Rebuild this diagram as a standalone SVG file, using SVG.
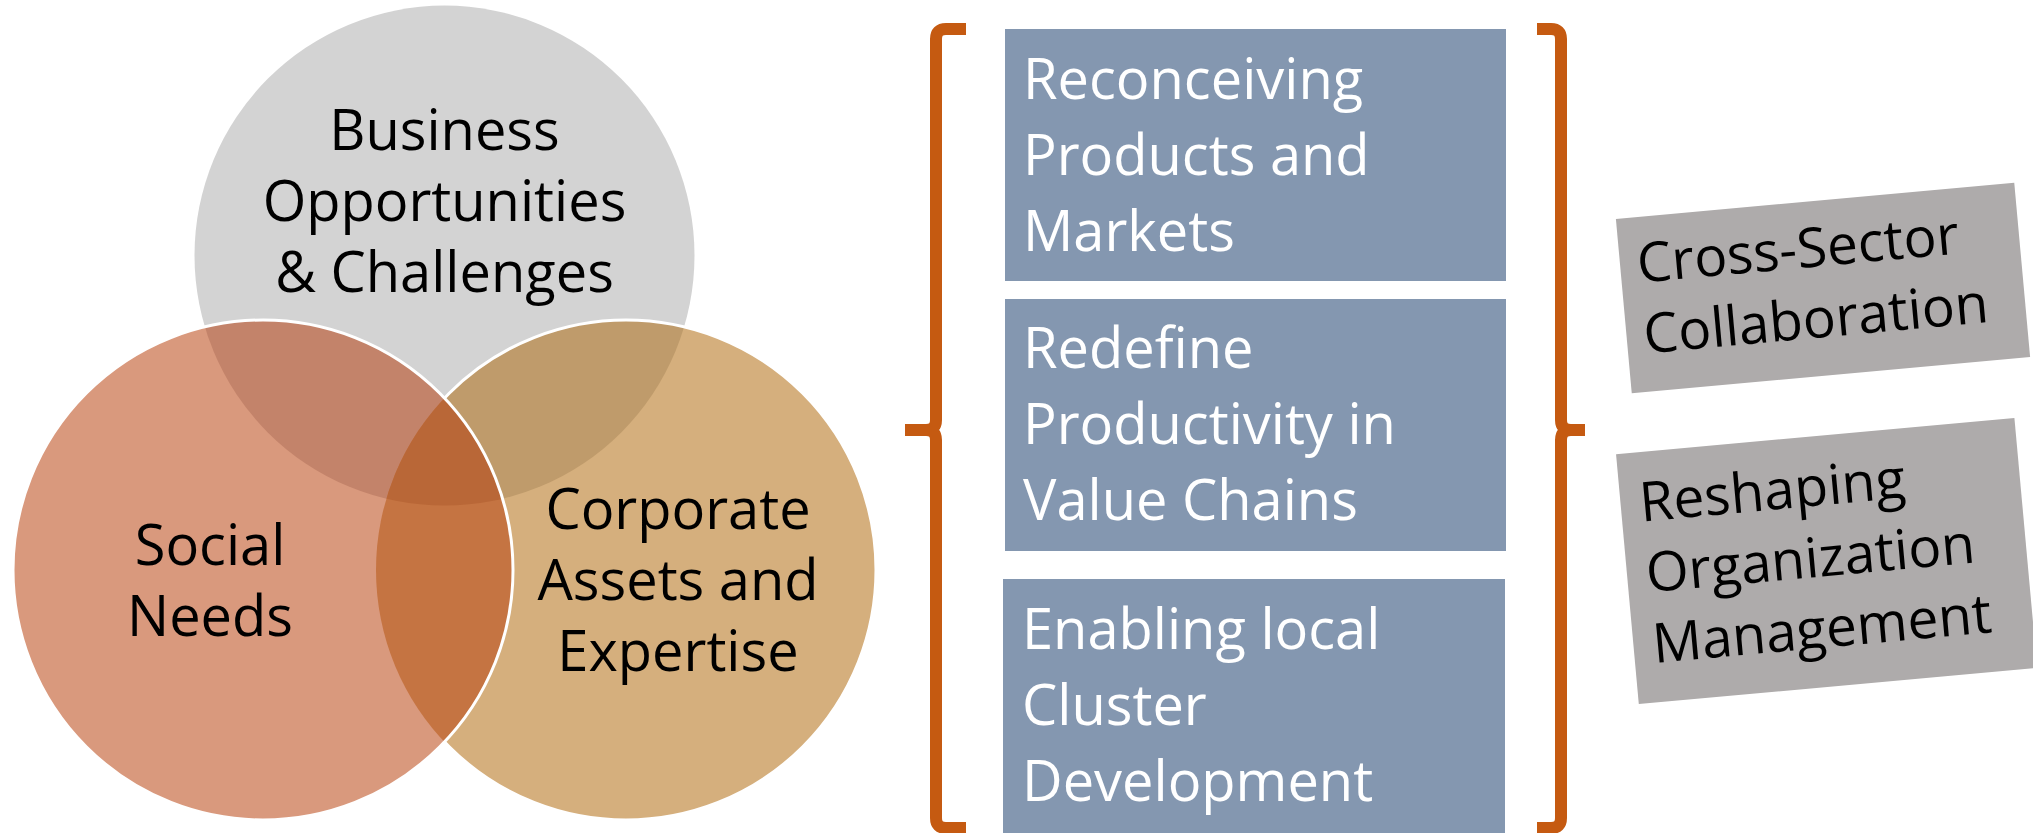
<svg xmlns="http://www.w3.org/2000/svg" width="2033" height="833" viewBox="0 0 2033 833">
<style>
.t{font-family:"Open Sans","Liberation Sans",sans-serif;font-size:56px}
.g{font-size:55px}
.c{text-anchor:middle}
.dk{fill:#000}
.wt{fill:#fff}
.edge{fill:none;stroke:#fff;stroke-width:3}
.brace{fill:none;stroke:#C55A11;stroke-width:12;stroke-linejoin:round}
.blue{fill:#8497B0}
.gray{fill:#AEABAB}
</style>
<defs>
<clipPath id="cTop"><circle cx="444.5" cy="255.6" r="250"/></clipPath>
<clipPath id="cLeft"><circle cx="263" cy="570" r="250"/></clipPath>
</defs>
<rect width="2033" height="833" fill="#fff"/>

<g id="node-business">
<circle cx="444.5" cy="255.6" r="250" fill="#D3D3D3"/>
<text class="t c dk"><tspan x="444.5" y="150">Business</tspan><tspan x="444.5" y="221">Opportunities</tspan><tspan x="444.5" y="292">&amp; Challenges</tspan></text>
</g>

<g id="node-corporate">
<circle cx="626" cy="570" r="250" fill="#D5AF7D"/>
<g clip-path="url(#cTop)"><circle cx="626" cy="570" r="250" fill="#BF9B6B"/></g>
<circle class="edge" cx="626" cy="570" r="250"/>
<text class="t c dk"><tspan x="678" y="529">Corporate</tspan><tspan x="678" y="600">Assets and</tspan><tspan x="678" y="671">Expertise</tspan></text>
</g>

<g id="node-social">
<circle cx="263" cy="570" r="250" fill="#D9997D"/>
<g clip-path="url(#cLeft)">
<circle cx="444.5" cy="255.6" r="250" fill="#C3836A"/>
<circle cx="626" cy="570" r="250" fill="#C57442"/>
<g clip-path="url(#cTop)"><circle cx="626" cy="570" r="250" fill="#B96737"/></g>
</g>
<circle class="edge" cx="263" cy="570" r="250"/>
<text class="t c dk"><tspan x="210" y="565">Social</tspan><tspan x="210" y="636">Needs</tspan></text>
</g>

<g id="braces">
<path class="brace" d="M966,29 L946,29 Q936,29 936,39 L936,420 Q936,430 926,430 L905,430 M905,430 L926,430 Q936,430 936,440 L936,818 Q936,828 946,828 L966,828"/>
<path class="brace" d="M1537,29 L1551,29 Q1561,29 1561,39 L1561,420 Q1561,430 1571,430 L1585,430 M1585,430 L1571,430 Q1561,430 1561,440 L1561,818 Q1561,828 1551,828 L1537,828"/>
</g>

<g id="node-reconceiving">
<rect class="blue" x="1005" y="29" width="501" height="252"/>
<text class="t wt"><tspan x="1023" y="99">Reconceiving</tspan><tspan x="1023" y="175">Products and</tspan><tspan x="1023" y="251">Markets</tspan></text>
</g>
<g id="node-redefine">
<rect class="blue" x="1005" y="299" width="501" height="252"/>
<text class="t wt"><tspan x="1023" y="368">Redefine</tspan><tspan x="1023" y="444">Productivity in</tspan><tspan x="1023" y="520">Value Chains</tspan></text>
</g>
<g id="node-enabling">
<rect class="blue" x="1003" y="579" width="502" height="260"/>
<text class="t wt"><tspan x="1022" y="649">Enabling local</tspan><tspan x="1022" y="725">Cluster</tspan><tspan x="1022" y="801">Development</tspan></text>
</g>

<g id="node-cross-sector" transform="translate(1823,288) rotate(-5.2)">
<rect class="gray" x="-200" y="-87.5" width="400" height="175"/>
<text class="t g dk"><tspan x="-183" y="-22">Cross-Sector</tspan><tspan x="-183" y="49">Collaboration</tspan></text>
</g>
<g id="node-reshaping" transform="translate(1826.6,561) rotate(-5.2)">
<rect class="gray" x="-200" y="-125.5" width="400" height="251"/>
<text class="t g dk"><tspan x="-181" y="-56">Reshaping</tspan><tspan x="-181" y="15">Organization</tspan><tspan x="-181" y="86">Management</tspan></text>
</g>
</svg>
